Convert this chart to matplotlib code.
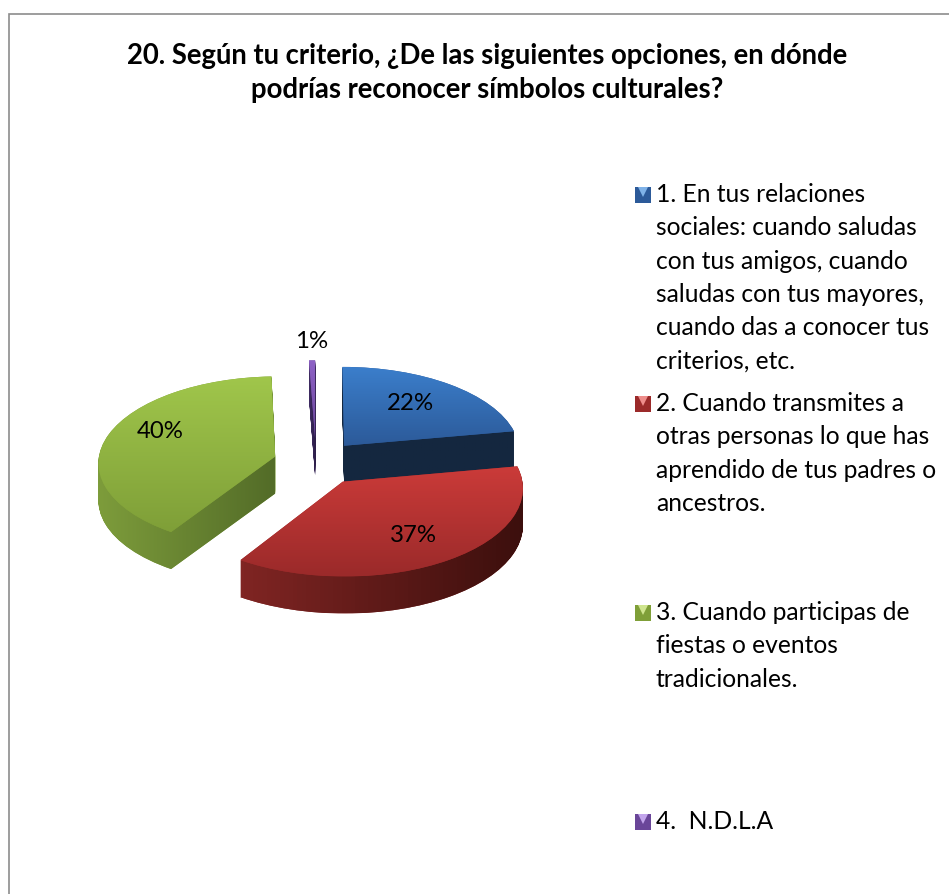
import matplotlib
matplotlib.use("Agg")
import matplotlib.pyplot as plt
import numpy as np
from matplotlib.colors import to_rgb
from matplotlib.patches import PathPatch
from matplotlib.path import Path
from matplotlib.transforms import Transform

plt.rcParams['font.family'] = ['Lato', 'DejaVu Sans']

title = "20. Según tu criterio, ¿De las siguientes opciones, en dónde\npodrías reconocer símbolos culturales?"
# the printed labels are below
values = [22.2, 37.0, 40.2, 0.6]
pct_labels = ["22%", "37%", "40%", "1%"]
legend_labels = [
    "1. En tus relaciones\nsociales: cuando saludas\ncon tus amigos, cuando\nsaludas con tus mayores,\ncuando das a conocer tus\ncriterios, etc.",
    "2. Cuando transmites a\notras personas lo que has\naprendido de tus padres o\nancestros.",
    "3. Cuando participas de\nfiestas o eventos\ntradicionales.",
    "4.  N.D.L.A",
]
top_light = ['#3b7ecb', '#cb3b39', '#a0c64b', '#8e62c6']
top_dark = ['#2c5a99', '#9b2a2a', '#7f9f38', '#6a4699']
wall_left = ['#14273f', '#802523', '#7d9c3b', '#3f2c62']
wall_right = ['#14273f', '#3c0f0d', '#536c28', '#2c1d48']
marker_tip = ['#7fb2e8', '#ee8d8b', '#cfe58f', '#c3a5ec']

W, H = 949, 894
# pie geometry in pixels
cx, cy = 316, 462
rx, ry = 177, 86
depth = 37
explode = [0.25, 0.27, 0.24, 0.28]
draw_order = [0, 3, 2, 1]  # blue, purple, green, red from back to front
k = 0.065  # perspective strength

cdx, cdy = cx / rx, (H - cy) / ry


class Persp(Transform):
    # nearer (lower) parts of the pie come out bigger
    input_dims = output_dims = 2
    has_inverse = False

    def transform_non_affine(self, xy):
        xy = np.asarray(xy, float)
        s = 1 / (1 + k * (xy[:, 1] - cdy))
        return np.column_stack((cdx + (xy[:, 0] - cdx) * s, cdy + (xy[:, 1] - cdy) * s))


fig = plt.figure(figsize=(W / 100, H / 100), dpi=100)
ax = fig.add_axes([0, 0, 1, 1])

wedges, _ = ax.pie(values, explode=explode, startangle=90, counterclock=False,
                   center=(cdx, cdy), radius=1, colors=top_dark,
                   wedgeprops={'linewidth': 0})
ax.set_aspect('auto')
persp = Persp()


def shade(color0, color1, axis, path, z):
    grad = np.linspace(0, 1, 64)
    grad = grad.reshape(1, -1, 1) if axis == 0 else grad.reshape(-1, 1, 1)
    rgb = np.array(to_rgb(color0)) * (1 - grad) + np.array(to_rgb(color1)) * grad
    box = path.get_extents()
    im = ax.imshow(rgb, aspect='auto', zorder=z, origin='lower',
                   extent=(box.x0, box.x1, box.y0, box.y1))
    im.set_clip_path(path, transform=ax.transData)


for i, w in enumerate(wedges):
    z = 2 * draw_order[i] + 1
    top = persp.transform_path(w.get_path())
    # wall is the top face dragged down, one pixel at a time
    layers = [Path(top.vertices - [0, d / ry], top.codes) for d in range(depth, 0, -1)]
    wall = Path.make_compound_path(*layers)
    ax.add_patch(PathPatch(wall, fc=wall_left[i], lw=0, zorder=z))
    shade(wall_left[i], wall_right[i], 0, wall, z + 0.1)
    w.set_transform(persp + ax.transData)
    w.set_zorder(z + 0.2)
    shade(top_dark[i], top_light[i], 1, top, z + 0.3)

ax.set_xlim(0, W / rx)
ax.set_ylim(0, H / ry)
ax.axis('off')

# overlay in pixel coordinates for frame and text
ov = fig.add_axes([0, 0, 1, 1], zorder=5)
ov.set_xlim(0, W)
ov.set_ylim(H, 0)
ov.axis('off')
ov.plot([9.5, 9.5, W], [H, 13.5, 13.5], color='#8c8c8c', lw=1.2, solid_joinstyle='miter')

ov.text(487, 73, title, ha='center', va='center', fontsize=19.8, fontweight='bold',
        color='black', linespacing=1.35)

pct_pos = [(410, 404), (413, 535), (160, 432), (312, 342)]
for lab, (px, py) in zip(pct_labels, pct_pos):
    ov.text(px, py, lab, ha='center', va='center', fontsize=17.3, color='black')

legend_y = [195, 404, 613, 822]
for i, lab in enumerate(legend_labels):
    ly = legend_y[i]
    ov.plot([643], [ly], marker='s', ms=11, color=top_dark[i], mew=0)
    ov.plot([643], [ly - 3.5], marker='v', ms=7, color=marker_tip[i], mew=0)
    ov.text(656, ly - 12, lab, ha='left', va='top', fontsize=17.7, color='black', linespacing=1.54)

fig.savefig("out.png", dpi=100)
